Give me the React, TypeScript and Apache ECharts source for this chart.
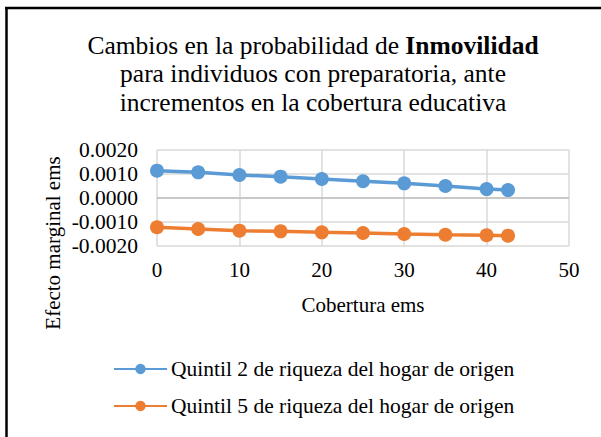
import React, { useEffect, useRef } from "react";
import * as echarts from "echarts";

const coverage = [0, 5, 10, 15, 20, 25, 30, 35, 40, 42.6];
const quintil2 = [0.00114, 0.00107, 0.00096, 0.00089, 0.00079, 0.0007, 0.00061, 0.0005, 0.00037, 0.00033];
const quintil5 = [-0.00122, -0.00129, -0.00136, -0.00139, -0.00143, -0.00146, -0.0015, -0.00153, -0.00155, -0.00157];
const seriesNames = ["Quintil 2 de riqueza del hogar de origen", "Quintil 5 de riqueza del hogar de origen"];
const colors = ["#5B9BD5", "#ED7D31"];

const FONT = "Liberation Serif";

export default function App() {
  const ref = useRef<HTMLDivElement>(null);
  useEffect(() => {
    if (!ref.current) return;
    const chart = echarts.init(ref.current, null, { renderer: "svg" });
    const mk = (vals: number[]) => coverage.map((x, i) => [x, vals[i]]);
    chart.setOption({
      animation: false,
      backgroundColor: "#fff",
      textStyle: { fontFamily: FONT },
      title: {
        text: "Cambios en la probabilidad de {b|Inmovilidad}\npara individuos con preparatoria, ante\nincrementos en la cobertura educativa",
        left: 308,
        top: 26,
        textAlign: "center",
        textStyle: {
          fontFamily: FONT,
          fontSize: 25.5,
          fontWeight: "normal",
          color: "#000",
          lineHeight: 28.5,
          rich: {
            b: { fontFamily: FONT, fontSize: 25.5, fontWeight: "bold", color: "#000", lineHeight: 28.5 },
          },
        },
      },
      legend: {
        orient: "vertical",
        left: 108,
        top: 353,
        itemGap: 15,
        itemWidth: 53,
        itemHeight: 13,
        textStyle: { fontFamily: FONT, fontSize: 21.5, color: "#000", padding: [0, 0, 0, -1] },
        data: seriesNames,
      },
      grid: { left: 157, right: 32, top: 150, bottom: 191, containLabel: false },
      xAxis: {
        type: "value",
        min: 0,
        max: 50,
        interval: 10,
        axisLine: { show: false },
        axisTick: { show: false },
        axisLabel: { fontFamily: FONT, fontSize: 21, color: "#000", margin: 13 },
        splitLine: { show: true, lineStyle: { color: "#d9d9d9", width: 1.5 } },
      },
      yAxis: {
        type: "value",
        min: -0.002,
        max: 0.002,
        interval: 0.001,
        axisLine: { show: false },
        axisTick: { show: false },
        axisLabel: {
          fontFamily: FONT,
          fontSize: 21.5,
          color: "#000",
          margin: 19,
          formatter: (v: number) => v.toFixed(4),
        },
        splitLine: { show: true, lineStyle: { color: "#d9d9d9", width: 1.5 } },
      },
      graphic: [
        { type: "line", shape: { x1: 5, y1: 8, x2: 601, y2: 8 }, style: { stroke: "#000", lineWidth: 2.5 } },
        { type: "line", shape: { x1: 6.5, y1: 7, x2: 6.5, y2: 437 }, style: { stroke: "#000", lineWidth: 2.5 } },
        {
          type: "text",
          x: 363,
          y: 305,
          style: { text: "Cobertura ems", font: `21px ${FONT}`, fill: "#000", align: "center", verticalAlign: "middle" },
        },
        {
          type: "text",
          x: 53,
          y: 243,
          rotation: Math.PI / 2,
          style: { text: "Efecto marginal ems", font: `21px ${FONT}`, fill: "#000", align: "center", verticalAlign: "middle" },
        },
      ],
      series: [
        {
          name: seriesNames[0],
          type: "line",
          data: mk(quintil2),
          symbol: "circle",
          symbolSize: 14,
          lineStyle: { width: 3.5, color: colors[0] },
          itemStyle: { color: colors[0] },
          markLine: {
            silent: true,
            symbol: "none",
            label: { show: false },
            lineStyle: { color: "#bfbfbf", width: 1.5, type: "solid" },
            data: [{ yAxis: 0 }],
          },
          z: 3,
        },
        {
          name: seriesNames[1],
          type: "line",
          data: mk(quintil5),
          symbol: "circle",
          symbolSize: 14,
          lineStyle: { width: 3.5, color: colors[1] },
          itemStyle: { color: colors[1] },
          z: 3,
        },
      ],
    });
    return () => chart.dispose();
  }, []);
  return <div ref={ref} style={{ position: "absolute", left: 0, top: 0, width: 601, height: 437 }} />;
}
